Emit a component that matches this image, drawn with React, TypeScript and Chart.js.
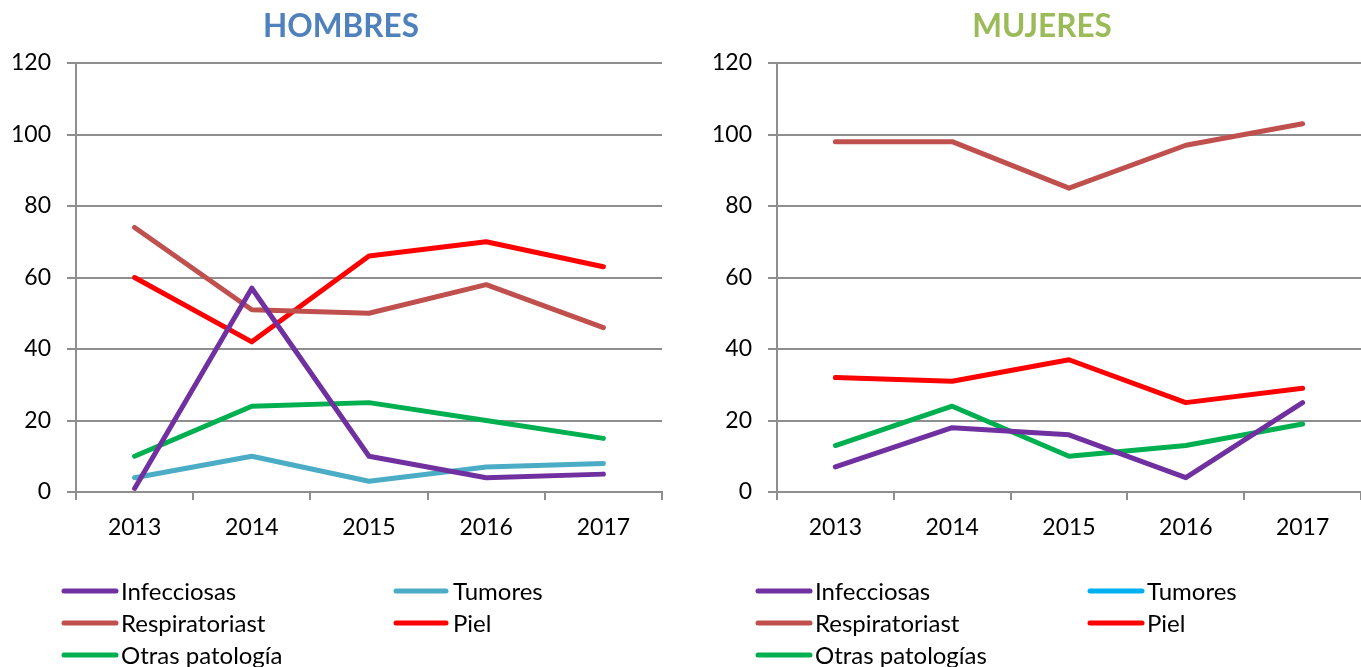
import React, { useEffect, useRef } from "react";
import { Chart, registerables } from "chart.js";
Chart.register(...registerables);

const years = ["2013", "2014", "2015", "2016", "2017"];
const yTickStep = 20;
const yMin = 0;
const yMax = 120;

const hombresNames = ["Infecciosas", "Tumores", "Respiratoriast", "Piel", "Otras patología"];
const mujeresNames = ["Infecciosas", "Tumores", "Respiratoriast", "Piel", "Otras patologías"];

const hombresInfecciosas = [1, 57, 10, 4, 5];
const hombresTumores = [4, 10, 3, 7, 8];
const hombresRespiratoriast = [74, 51, 50, 58, 46];
const hombresPiel = [60, 42, 66, 70, 63];
const hombresOtras = [10, 24, 25, 20, 15];

const mujeresInfecciosas = [7, 18, 16, 4, 25];
const mujeresTumores: (number | null)[] = [null, null, null, null, null];
const mujeresRespiratoriast = [98, 98, 85, 97, 103];
const mujeresPiel = [32, 31, 37, 25, 29];
const mujeresOtras = [13, 24, 10, 13, 19];

const hombresColors = ["#7030A0", "#4BACC6", "#C0504D", "#FF0000", "#00B050"];
const mujeresColors = ["#7030A0", "#00B0F0", "#C0504D", "#FF0000", "#00B050"];

const FONT = "Lato, 'Open Sans', sans-serif";
const GRID = "#8e8e8e";

type LegendCol = { m0: number; m1: number; t: number };

type PanelProps = {
  left: number;
  width: number;
  title: string;
  titleColor: string;
  titleX: number;
  names: string[];
  colors: string[];
  values: (number | null)[][];
  yAxisWidth: number;
  padRight: number;
  cols: LegendCol[];
};

const legendRows = [591, 623, 655];

function Panel(p: PanelProps) {
  const ref = useRef<HTMLCanvasElement | null>(null);
  useEffect(() => {
    if (!ref.current) return;
    const titlePlugin = {
      id: "customTitle",
      afterDraw(chart: any) {
        const ctx = chart.ctx;
        ctx.save();
        ctx.font = `bold 31.5px ${FONT}`;
        ctx.fillStyle = p.titleColor;
        ctx.textAlign = "center";
        ctx.textBaseline = "middle";
        ctx.fillText(p.title, p.titleX, 27);
        ctx.restore();
      },
    };
    const legendPlugin = {
      id: "customLegend",
      afterDraw(chart: any) {
        const ctx = chart.ctx;
        ctx.save();
        chart.data.datasets.forEach((ds: any, i: number) => {
          const col = p.cols[i % 2];
          const y = legendRows[Math.floor(i / 2)];
          ctx.strokeStyle = ds.borderColor;
          ctx.lineWidth = 5;
          ctx.lineCap = "round";
          ctx.beginPath();
          ctx.moveTo(col.m0, y);
          ctx.lineTo(col.m1, y);
          ctx.stroke();
          ctx.fillStyle = "#000";
          ctx.font = `24px ${FONT}`;
          ctx.textAlign = "left";
          ctx.textBaseline = "middle";
          ctx.fillText(ds.label, col.t, y + 1);
        });
        ctx.restore();
      },
    };
    const chart = new Chart(ref.current, {
      type: "line",
      data: {
        labels: years,
        datasets: p.names.map((n, i) => ({
          label: n,
          data: p.values[i],
          borderColor: p.colors[i],
          backgroundColor: p.colors[i],
          borderWidth: 5,
          pointRadius: 0,
          pointHoverRadius: 0,
          tension: 0,
          fill: false,
          borderCapStyle: "round" as const,
          borderJoinStyle: "round" as const,
        })),
      },
      options: {
        animation: false,
        responsive: false,
        maintainAspectRatio: false,
        layout: { padding: { top: 63, left: 0, right: p.padRight, bottom: 0 } },
        plugins: {
          legend: { display: false },
          title: { display: false },
          tooltip: { enabled: false },
        },
        scales: {
          x: {
            type: "category",
            offset: true,
            grid: {
              offset: true,
              drawOnChartArea: false,
              drawTicks: true,
              tickLength: 8,
              color: GRID,
              lineWidth: 2,
            },
            border: { color: GRID, width: 2 },
            ticks: { color: "#000", font: { family: FONT, size: 23 }, padding: 14, maxRotation: 0 },
            afterFit(scale: any) {
              scale.height = 175;
            },
          },
          y: {
            min: yMin,
            max: yMax,
            ticks: { stepSize: yTickStep, color: "#000", font: { family: FONT, size: 23 }, padding: 16 },
            grid: { color: GRID, tickLength: 9, drawTicks: true, lineWidth: 2 },
            border: { color: GRID, width: 2 },
            afterFit(scale: any) {
              scale.width = p.yAxisWidth;
            },
          },
        },
      },
      plugins: [titlePlugin, legendPlugin],
    });
    return () => chart.destroy();
  }, []);
  return (
    <canvas
      ref={ref}
      width={p.width}
      height={667}
      style={{ position: "absolute", left: p.left, top: 0, width: p.width, height: 667 }}
    />
  );
}

export default function App() {
  return (
    <div style={{ position: "absolute", left: 0, top: 0, width: 1361, height: 667, background: "#fff", overflow: "hidden" }}>
      <Panel
        left={0}
        width={680}
        title="HOMBRES"
        titleColor="#4F81BD"
        titleX={341}
        names={hombresNames}
        colors={hombresColors}
        values={[hombresInfecciosas, hombresTumores, hombresRespiratoriast, hombresPiel, hombresOtras]}
        yAxisWidth={76}
        padRight={18}
        cols={[
          { m0: 64, m1: 116, t: 121 },
          { m0: 396, m1: 446, t: 453 },
        ]}
      />
      <Panel
        left={690}
        width={671}
        title="MUJERES"
        titleColor="#9BBB59"
        titleX={352}
        names={mujeresNames}
        colors={mujeresColors}
        values={[mujeresInfecciosas, mujeresTumores, mujeresRespiratoriast, mujeresPiel, mujeresOtras]}
        yAxisWidth={87}
        padRight={0}
        cols={[
          { m0: 68, m1: 120, t: 125 },
          { m0: 400, m1: 452, t: 457 },
        ]}
      />
    </div>
  );
}
